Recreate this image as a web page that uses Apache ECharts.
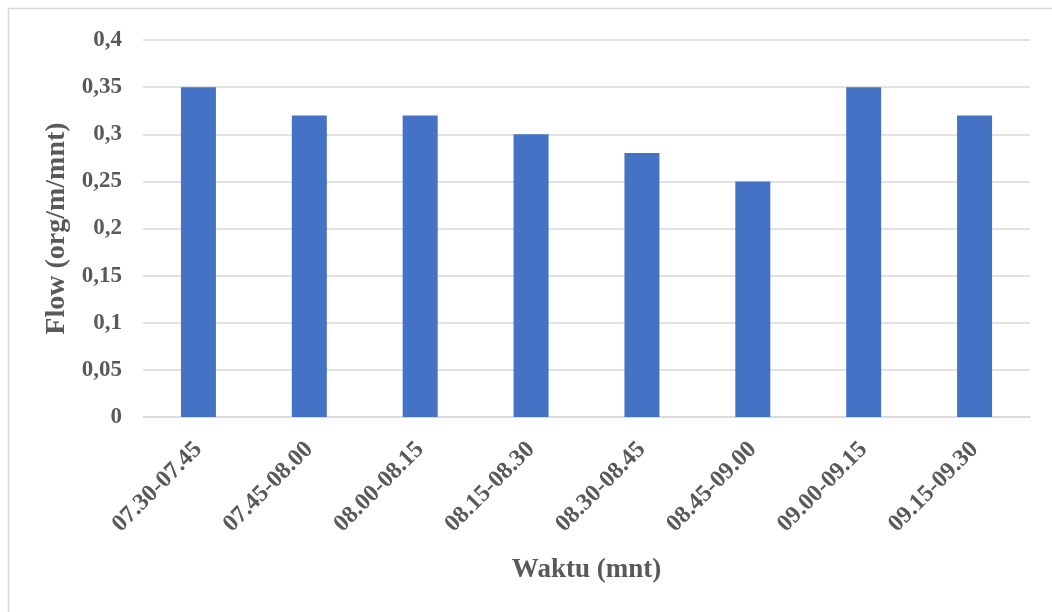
<!DOCTYPE html>
<html>
<head>
<meta charset="utf-8">
<script src="https://cdn.jsdelivr.net/npm/echarts@6/dist/echarts.min.js"></script>
<style>
html,body{margin:0;padding:0;background:#fff;}
#chart{width:1052px;height:612px;}
</style>
</head>
<body>
<div id="chart"></div>
<script>
const categories = ['07.30-07.45','07.45-08.00','08.00-08.15','08.15-08.30','08.30-08.45','08.45-09.00','09.00-09.15','09.15-09.30'];
const flowValues = [0.35, 0.32, 0.32, 0.30, 0.28, 0.25, 0.35, 0.32];
const xAxisTitle = 'Waktu (mnt)';
const yAxisTitle = 'Flow (org/m/mnt)';

const FONT = '"Liberation Serif", "Times New Roman", serif';
const chart = echarts.init(document.getElementById('chart'), null, {renderer: 'canvas'});
chart.setOption({
  backgroundColor: '#ffffff',
  animation: false,
  graphic: [{
    type: 'rect',
    shape: {x: 8.5, y: 8.5, width: 1200, height: 800},
    style: {fill: 'none', stroke: '#d9d9d9', lineWidth: 1.5},
    silent: true
  }],
  grid: {left: 143, right: 22, top: 40, bottom: 195},
  xAxis: {
    type: 'category',
    data: categories,
    name: xAxisTitle,
    nameLocation: 'middle',
    nameGap: 140,
    nameTextStyle: {fontFamily: FONT, fontWeight: 'bold', fontSize: 27, color: '#595959'},
    axisLine: {lineStyle: {color: '#d9d9d9', width: 1.5}},
    axisTick: {show: false},
    axisLabel: {rotate: 45, margin: 29, fontFamily: FONT, fontWeight: 'bold', fontSize: 24, color: '#595959', interval: 0}
  },
  yAxis: {
    type: 'value',
    min: 0, max: 0.4, interval: 0.05,
    name: yAxisTitle,
    nameLocation: 'middle',
    nameGap: 67,
    nameTextStyle: {fontFamily: FONT, fontWeight: 'bold', fontSize: 28, color: '#595959'},
    axisLine: {show: false},
    axisTick: {show: false},
    splitLine: {lineStyle: {color: '#d9d9d9', width: 1.5}},
    axisLabel: {
      margin: 21, fontFamily: FONT, fontWeight: 'bold', fontSize: 23, color: '#595959',
      formatter: v => String(+v.toFixed(2)).replace('.', ',')
    }
  },
  series: [{
    type: 'bar',
    data: flowValues,
    barWidth: 35,
    itemStyle: {color: '#4472c4'}
  }]
});
</script>
</body>
</html>
